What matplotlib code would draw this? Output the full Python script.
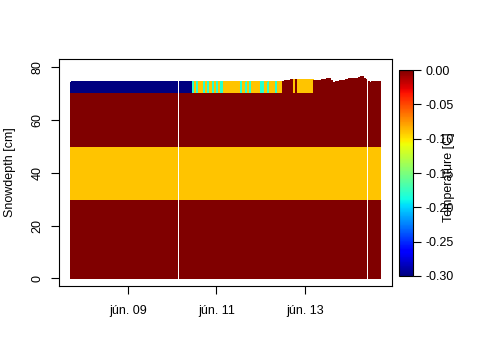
import matplotlib
matplotlib.use('Agg')
import matplotlib.pyplot as plt
from matplotlib import colors, cm

plt.rcParams['font.family'] = ['Liberation Sans', 'DejaVu Sans']
plt.rcParams['font.size'] = 9
plt.rcParams['axes.unicode_minus'] = False

# ---- data (time in hours since jún. 09 00:00, depth in cm, temperature in °C) ----
# constant lower snow layers
layer_bottom = [0, 30, 50]
layer_top = [30, 50, 70.3]
layer_temp = [0.0, -0.09, 0.0]
# continuous record blocks (white gaps = missing records between them)
block_start = [-31.2, 27.9, 130.6]
block_end = [27.0, 129.7, 137.0]

# uppermost layer (70.3 cm up to the snow surface)
top_start = [-31.2, 27.9, 35, 36, 37, 38, 41, 42, 43, 44, 46, 47, 48, 49, 50, 52,
             61, 62, 64, 65, 66, 67, 72, 74, 76, 77, 80, 81,
             84, 85, 88, 90, 91, 92,
             101, 105, 108, 110, 111, 113, 115, 118, 120, 125, 126.5, 128, 129,
             130.6, 131.5, 132.5]
top_end = [27.0, 35, 36, 37, 38, 41, 42, 43, 44, 46, 47, 48, 49, 50, 52, 61,
           62, 64, 65, 66, 67, 72, 74, 76, 77, 80, 81, 84,
           85, 88, 90, 91, 92, 101,
           105, 108, 110, 111, 113, 115, 118, 120, 125, 126.5, 128, 129, 129.7,
           131.5, 132.5, 137.0]
top_temp = [-0.30, -0.30, -0.18, -0.09, -0.18, -0.09, -0.18, -0.09, -0.18, -0.09,
            -0.18, -0.09, -0.18, -0.09, -0.18, -0.09,
            -0.18, -0.09, -0.18, -0.09, -0.18, -0.09, -0.18, -0.09, -0.18, -0.09,
            -0.18, -0.09,
            0.0, 0.0, 0.0, -0.09, 0.0, -0.09,
            0.0, 0.0, 0.0, 0.0, 0.0, 0.0, 0.0, 0.0, 0.0, 0.0, 0.0, 0.0, 0.0,
            0.0, 0.0, 0.0]
top_height = [74.4, 74.4, 74.4, 74.4, 74.4, 74.4, 74.4, 74.4, 74.4, 74.4,
              74.4, 74.4, 74.4, 74.4, 74.4, 74.4,
              74.4, 74.4, 74.4, 74.4, 74.4, 74.4, 74.4, 74.4, 74.4, 74.4,
              74.4, 74.4,
              74.6, 75.1, 75.5, 75.5, 75.5, 75.3,
              75.1, 75.5, 75.8, 75.1, 74.1, 74.7, 75.1, 75.5, 75.8, 76.2, 76.6, 75.8, 75.5,
              74.7, 74.3, 74.7]

tick_hours = [0, 48, 96]
tick_labels = ['jún. 09', 'jún. 11', 'jún. 13']
cbar_ticks = [-0.30, -0.25, -0.20, -0.15, -0.10, -0.05, 0.00]

# ---- plot ----
cmap = plt.get_cmap('jet')
norm = colors.Normalize(vmin=-0.30, vmax=0.0)

fig = plt.figure(figsize=(4.8, 3.6), dpi=100)
ax = fig.add_axes([59/480, 1 - 286/360, (392 - 59)/480, (286 - 59)/360])

for bs, be in zip(block_start, block_end):
    for lb, lt, lv in zip(layer_bottom, layer_top, layer_temp):
        ax.bar(bs, lt - lb, width=be - bs, bottom=lb, align='edge',
               color=cmap(norm(lv)), linewidth=0, antialiased=False, snap=False)

for s, e, t, h in zip(top_start, top_end, top_temp, top_height):
    ax.bar(s, h - layer_top[-1], width=e - s, bottom=layer_top[-1], align='edge',
           color=cmap(norm(t)), linewidth=0, antialiased=False, snap=False)

ax.set_xlim(-37.7, 143.5)
ax.set_ylim(-2.9, 83.1)
ax.set_xticks(tick_hours)
ax.set_xticklabels(tick_labels)
ax.set_yticks([0, 20, 40, 60, 80])
ax.set_yticklabels(['0', '20', '40', '60', '80'], rotation=90, va='center')
ax.tick_params(direction='out', length=6, width=0.8, pad=5)
ax.tick_params(axis='x', pad=8)
ax.set_ylabel('Snowdepth [cm]', labelpad=11)
for sp in ax.spines.values():
    sp.set_linewidth(0.8)

cax = fig.add_axes([399/480, 1 - 276/360, 13.5/480, (276 - 70)/360])
sm = cm.ScalarMappable(norm=norm, cmap=cmap)
cb = fig.colorbar(sm, cax=cax, ticks=cbar_ticks)
cb.ax.set_yticklabels(['%.2f' % v for v in cbar_ticks])
cb.ax.tick_params(direction='out', length=6, width=0.8, pad=3)
cb.outline.set_linewidth(0.8)
fig.text(449/480, 1 - 177/360, 'Temperature [C]', rotation=90, ha='center', va='center')

fig.savefig('out.png', dpi=100)
